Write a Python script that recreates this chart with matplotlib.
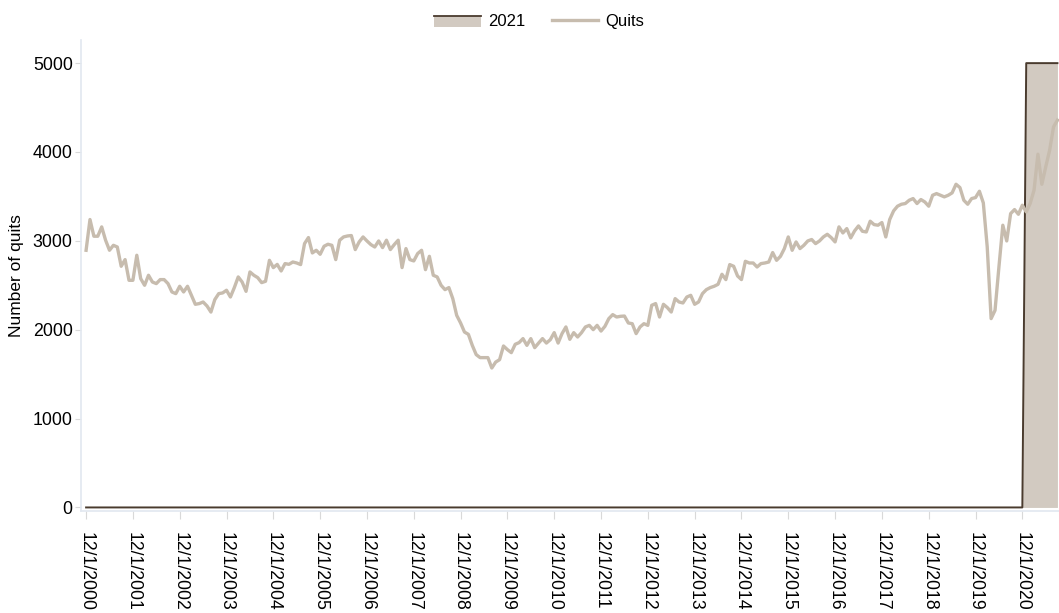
#line chart of monthly quits with the 2021 period shaded

import pandas as pd
import matplotlib.pyplot as plt
from matplotlib.legend_handler import HandlerBase
from matplotlib.patches import Rectangle
from matplotlib.lines import Line2D

plt.rcParams['font.family'] = ['Liberation Sans', 'DejaVu Sans']

# monthly dates, first one is 12/1/2000
dates = pd.date_range('2000-12-01', periods=250, freq='MS')
date_labels = [f'{d.month}/{d.day}/{d.year}' for d in dates]

quits = [
    2894, 3240, 3052, 3052, 3157, 3007, 2894, 2950, 2931, 2714,
    2789, 2556, 2556, 2838, 2575, 2500, 2613, 2537, 2519, 2564,
    2564, 2519, 2425, 2406, 2489, 2425, 2489, 2387, 2286, 2294,
    2312, 2267, 2199, 2339, 2406, 2414, 2444, 2368, 2474, 2594,
    2537, 2432, 2650, 2613, 2586, 2530, 2545, 2781, 2699, 2735,
    2661, 2744, 2736, 2762, 2751, 2733, 2969, 3037, 2864, 2894,
    2849, 2939, 2962, 2950, 2789, 3007, 3044, 3055, 3060, 2902,
    2988, 3044, 2999, 2958, 2931, 2999, 2924, 3007, 2902, 2958,
    3007, 2699, 2913, 2789, 2774, 2857, 2894, 2676, 2826, 2613,
    2594, 2500, 2451, 2474, 2350, 2162, 2076, 1974, 1948, 1824,
    1720, 1686, 1686, 1686, 1569, 1636, 1663, 1817, 1776, 1742,
    1836, 1855, 1900, 1824, 1900, 1798, 1850, 1900, 1850, 1888,
    1967, 1850, 1956, 2031, 1892, 1967, 1918, 1967, 2031, 2049,
    2001, 2049, 1985, 2038, 2125, 2170, 2143, 2151, 2154, 2076,
    2068, 1956, 2031, 2068, 2049, 2275, 2294, 2143, 2286, 2249,
    2199, 2350, 2312, 2301, 2368, 2387, 2286, 2312, 2406, 2451,
    2474, 2489, 2511, 2624, 2564, 2733, 2714, 2605, 2564, 2770,
    2751, 2751, 2706, 2744, 2751, 2762, 2868, 2781, 2826, 2913,
    3044, 2894, 2988, 2913, 2950, 2999, 3015, 2969, 2999, 3044,
    3074, 3037, 2988, 3157, 3089, 3138, 3033, 3112, 3168, 3108,
    3100, 3221, 3183, 3176, 3206, 3044, 3240, 3337, 3390, 3412,
    3420, 3457, 3476, 3420, 3465, 3438, 3390, 3513, 3532, 3513,
    3495, 3513, 3540, 3637, 3600, 3457, 3412, 3476, 3487, 3558,
    3427, 2932, 2125, 2218, 2706, 3176, 2999, 3307, 3352, 3299,
    3401, 3326, 3420, 3570, 3975, 3637, 3833, 4020, 4283, 4358,
]

# highlight series: 5000 for the 2021 months, 0 before
year_2021 = [0] * 241 + [5000] * 9

fill_color = '#d2cac1'
edge_color = '#4a3b2e'
line_color = '#c7bcae'
axis_color = '#e2e8f0'


class AreaHandler(HandlerBase):
    # legend key: filled box with a dark line on top
    def create_artists(self, legend, orig, xd, yd, w, h, fontsize, trans):
        box = Rectangle((xd, yd), w, h, facecolor=fill_color, edgecolor='none', transform=trans)
        top = Line2D([xd, xd + w], [yd + h, yd + h], color=edge_color, lw=1.3, transform=trans)
        return [box, top]


fig = plt.figure(figsize=(10.59, 6.13), dpi=100)
ax = fig.add_axes([0.0765, 0.1664, 0.9235, 0.7683])

x = list(range(len(dates)))
ax.fill_between(x, 0, year_2021, color=fill_color, lw=0, zorder=1)
ax.plot(x, year_2021, color=edge_color, lw=1.4, zorder=2)
ax.plot(x, quits, color=line_color, lw=2.4, zorder=3)

ax.set_xlim(-1.3, 249.4)
ax.set_ylim(-40, 5260)
ax.set_yticks([0, 1000, 2000, 3000, 4000, 5000])
ax.set_xticks(x[::12])
ax.set_xticklabels(date_labels[::12], rotation=270, ha='center', va='top')

ax.tick_params(axis='x', length=6, color='#d9d9d9', pad=9, labelsize=12.7)
ax.tick_params(axis='y', length=4, color='#d9d9d9', pad=2, labelsize=12.8)
for side in ['top', 'right']:
    ax.spines[side].set_visible(False)
for side in ['left', 'bottom']:
    ax.spines[side].set_color(axis_color)
    ax.spines[side].set_linewidth(1.2)

ax.set_ylabel('Number of quits', fontsize=12.5, labelpad=6)

handles = [Rectangle((0, 0), 1, 1), Line2D([0], [0], color=line_color, lw=2.4)]
fig.legend(handles, ['2021', 'Quits'], handler_map={Rectangle: AreaHandler()},
           loc='center', bbox_to_anchor=(0.509, 0.965), ncol=2, frameon=False,
           fontsize=12, handlelength=2.8, handleheight=0.6, columnspacing=1.6, handletextpad=0.4)

plt.savefig('out.png', dpi=100)
